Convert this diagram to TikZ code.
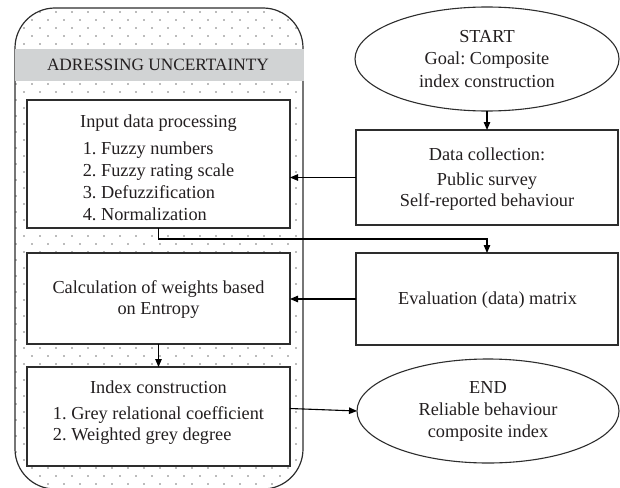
\documentclass[tikz,border=0pt]{standalone}
\usepackage{fontspec}
\setmainfont{Liberation Serif}
\frenchspacing
\usetikzlibrary{arrows.meta,shapes.geometric,calc}
\definecolor{bandgray}{RGB}{209,211,212}
\definecolor{linegray}{RGB}{45,45,45}
\definecolor{dotgray}{RGB}{120,120,120}
\definecolor{textgray}{RGB}{35,31,32}
\begin{document}
\begin{tikzpicture}[x=1pt,y=-1pt,
  container/.style={draw=linegray,line width=1.2pt,rounded corners=40pt,rectangle,inner sep=0pt,outer sep=0pt},
  box/.style={draw=linegray,line width=1.3pt,fill=white,rectangle,inner sep=0pt,outer sep=0pt},
  oval/.style={draw=linegray,line width=1.1pt,fill=white,ellipse,inner sep=0pt,outer sep=0pt},
  conn/.style={line width=1.1pt,black},
  arr/.style={conn,-{Triangle[length=8pt,width=6.5pt]}},
  txt/.style={font=\fontsize{18.3}{22}\selectfont,inner sep=0pt,anchor=base,text=textgray},
]
\useasboundingbox (0,0) rectangle (620,487);

% dotted background of the container
\begin{scope}
\clip[rounded corners=40pt] (15,8) rectangle (303,489);
\foreach \r in {0,...,60}{
  \pgfmathtruncatemacro\off{8-8*mod(\r,2)}
  \foreach \k in {0,...,19}{
    \fill[dotgray] (16*\k+\off,12+8*\r) circle[radius=0.85pt];
  }
}
\end{scope}
\node[container,minimum width=288pt,minimum height=481pt] (cont) at (159,248.5) {};

% band
\node[fill=bandgray,minimum width=289pt,minimum height=32pt,inner sep=0pt] (band) at (159,65) {};
\node[txt,font=\fontsize{17.3}{20}\selectfont] (bandtxt) at (158,70.7) {ADRESSING UNCERTAINTY};

% left boxes
\node[box,minimum width=263pt,minimum height=128pt] (inp) at (158.5,164) {};
\node[box,minimum width=263pt,minimum height=91pt] (calc) at (158.5,298.5) {};
\node[box,minimum width=263pt,minimum height=99pt] (idx) at (158.5,416.5) {};

% right shapes
\node[oval,minimum width=264pt,minimum height=104pt] (start) at (487,59) {};
\node[box,minimum width=262pt,minimum height=95pt] (dc) at (487,177.5) {};
\node[box,minimum width=262pt,minimum height=92pt] (ev) at (487,299) {};
\node[oval,minimum width=262pt,minimum height=104pt] (end) at (488,411) {};

% texts
\node[txt] (inph) at (158.5,127.3) {Input data processing};
\node[txt,font=\fontsize{18.3}{22.1}\selectfont] (inpl) at (158.5,154.3)
  {\begin{tabular}[t]{@{}l@{}}1. Fuzzy numbers\\2. Fuzzy rating scale\\3. Defuzzification\\4. Normalization\end{tabular}};
\node[txt,font=\fontsize{18.3}{20.7}\selectfont] (calct) at (158.5,293.3)
  {\begin{tabular}[t]{@{}c@{}}Calculation of weights based\\on Entropy\end{tabular}};
\node[txt] (idxh) at (158.5,393.3) {Index construction};
\node[txt,font=\fontsize{18.3}{21.7}\selectfont] (idxl) at (158.5,419)
  {\begin{tabular}[t]{@{}l@{}}1. Grey relational coefficient\\2. Weighted grey degree\end{tabular}};
\node[txt,font=\fontsize{18.3}{22.5}\selectfont] (startt) at (487,42.3)
  {\begin{tabular}[t]{@{}c@{}}START\\Goal: Composite\\index construction\end{tabular}};
\node[txt] (dch) at (487,160.7) {Data collection:};
\node[txt,font=\fontsize{18.3}{21}\selectfont] (dcl) at (487,185)
  {\begin{tabular}[t]{@{}c@{}}Public survey\\Self-reported behaviour\end{tabular}};
\node[txt] (evt) at (487.5,304.3) {Evaluation (data) matrix};
\node[txt,font=\fontsize{18.3}{22}\selectfont] (endt) at (488,393.3)
  {\begin{tabular}[t]{@{}c@{}}END\\Reliable behaviour\\composite index\end{tabular}};

% connectors
\draw[arr] (start.south) -- (dc.north);
\draw[arr] (dc.west) -- (inp.east |- dc.west);
\draw[arr] (inp.south) -- ++(0,11) -| (ev.north);
\draw[arr] (ev.west) -- (calc.east |- ev.west);
\draw[arr] (calc.south) -- (idx.north);
\draw[arr] ([yshift=8pt]idx.east) -- (end.west);
\end{tikzpicture}
\end{document}
